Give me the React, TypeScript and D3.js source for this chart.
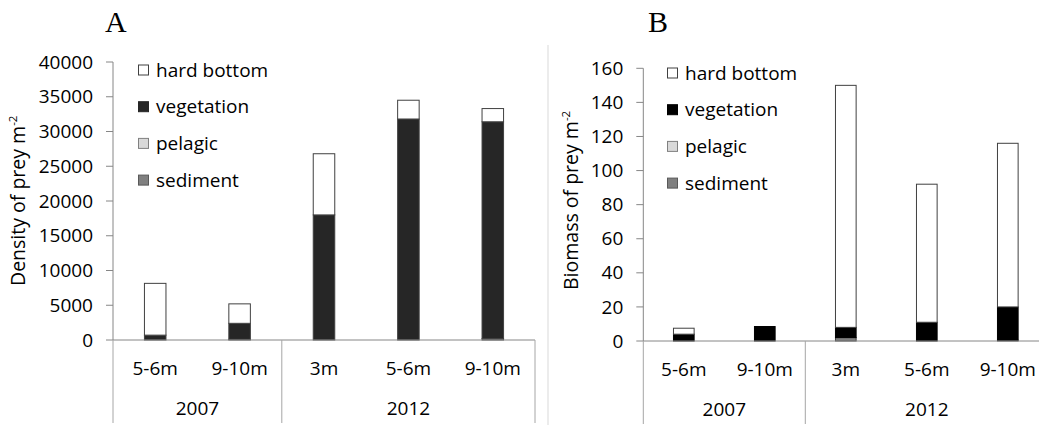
import React from "react";
import * as d3 from "d3";

const categories = ["5-6m", "9-10m", "3m", "5-6m", "9-10m"];
const catIds = ["a", "b", "c", "d", "e"];
const years = ["2007", "2012"];
const yearSpans = [2, 3];
const seriesNames = ["hard bottom", "vegetation", "pelagic", "sediment"];

// Panel A: density (prey m^-2)
const densitySediment = [0, 100, 0, 0, 200];
const densityPelagic = [0, 0, 0, 0, 0];
const densityVegetation = [700, 2300, 18000, 31800, 31200];
const densityHardBottom = [7450, 2800, 8800, 2700, 1900];
const densityTicks = [0, 5000, 10000, 15000, 20000, 25000, 30000, 35000, 40000];

// Panel B: biomass (prey m^-2)
const biomassSediment = [0, 0, 2, 0, 0.5];
const biomassPelagic = [0, 0, 0, 0, 0];
const biomassVegetation = [4, 8.5, 6, 11, 19.5];
const biomassHardBottom = [3.5, 0, 142, 81, 96];
const biomassTicks = [0, 20, 40, 60, 80, 100, 120, 140, 160];

const FONT = "'Open Sans', sans-serif";

type PanelProps = {
  letter: string;
  letterX: number;
  axisX: number;
  bandW: number;
  y0: number;
  yTop: number;
  maxV: number;
  ticks: number[];
  title: string;
  titleX: number;
  titleBottom: number;
  stacks: number[][]; // bottom -> top: sediment, pelagic, vegetation, hard
  colors: string[]; // sediment, pelagic, vegetation, hard
  legendX: number;
  legendY: number;
};

function Panel(p: PanelProps) {
  const x = d3
    .scaleBand<string>()
    .domain(catIds)
    .range([p.axisX, p.axisX + p.bandW * catIds.length]);
  const y = d3.scaleLinear().domain([0, p.maxV]).range([p.y0, p.yTop]);
  const bw = x.bandwidth() * 0.255;
  const axisEnd = p.axisX + p.bandW * catIds.length;
  const dividers: number[] = [p.axisX];
  let acc = 0;
  yearSpans.forEach((s) => {
    acc += s;
    dividers.push(x(catIds[acc - 1])! + x.bandwidth());
  });
  const legendColors = [p.colors[3], p.colors[2], p.colors[1], p.colors[0]];
  const legendStroke = ["#404040", p.colors[2], "#808080", "#595959"];
  return (
    <g>
      <text x={p.letterX} y={32} fontFamily="'Liberation Serif', 'Times New Roman', serif" fontSize={30} fill="#000">
        {p.letter}
      </text>
      {/* y axis */}
      <line x1={p.axisX} x2={p.axisX} y1={y(p.maxV)} y2={p.y0} stroke="#868686" strokeWidth={1} />
      {p.ticks.map((t) => (
        <g key={t}>
          <line x1={p.axisX - 7} x2={p.axisX} y1={y(t)} y2={y(t)} stroke="#868686" strokeWidth={1} />
          <text x={p.axisX - 20} y={y(t)} dy="0.35em" textAnchor="end" fontFamily={FONT} fontSize={19} fill="#000">
            {t}
          </text>
        </g>
      ))}
      <text
        transform={`translate(${p.titleX},${p.titleBottom}) rotate(-90)`}
        textAnchor="start"
        fontFamily={FONT}
        fontSize={19.5}
        fill="#000"
      >
        {p.title}
        <tspan fontSize={11.5} dy={-8}>-2</tspan>
      </text>
      {/* bars */}
      {catIds.map((id, i) => {
        let base = 0;
        return (
          <g key={id}>
            {p.stacks.map((s, k) => {
              const v = s[i];
              const b = base;
              base += v;
              if (v <= 0) return null;
              return (
                <rect
                  key={k}
                  x={x(id)! + (x.bandwidth() - bw) / 2}
                  y={y(b + v)}
                  width={bw}
                  height={y(b) - y(b + v)}
                  fill={p.colors[k]}
                  stroke={p.colors[k] === "#000000" ? "#000" : "#404040"}
                  strokeWidth={1}
                />
              );
            })}
          </g>
        );
      })}
      {/* x axis */}
      <line x1={p.axisX} x2={axisEnd} y1={p.y0} y2={p.y0} stroke="#868686" strokeWidth={1} />
      {dividers.map((dx, i) => (
        <line key={i} x1={dx} x2={dx} y1={p.y0} y2={p.y0 + 83} stroke="#a6a6a6" strokeWidth={1} />
      ))}
      {categories.map((c, i) => (
        <text
          key={i}
          x={x(catIds[i])! + x.bandwidth() / 2}
          y={p.y0 + 35}
          textAnchor="middle"
          fontFamily={FONT}
          fontSize={19}
          fill="#000"
        >
          {c}
        </text>
      ))}
      {years.map((yr, i) => {
        const start = yearSpans.slice(0, i).reduce((a, b) => a + b, 0);
        const end = start + yearSpans[i] - 1;
        const cx = (x(catIds[start])! + x(catIds[end])! + x.bandwidth()) / 2;
        return (
          <text key={yr} x={cx} y={p.y0 + 75} textAnchor="middle" fontFamily={FONT} fontSize={19} fill="#000">
            {yr}
          </text>
        );
      })}
      {/* legend */}
      {seriesNames.map((n, i) => (
        <g key={n} transform={`translate(${p.legendX},${p.legendY + i * 36.7})`}>
          <rect x={0.5} y={-5} width={10} height={10} fill={legendColors[i]} stroke={legendStroke[i]} strokeWidth={1} />
          <text x={18} y={0} dy="0.35em" fontFamily={FONT} fontSize={19} fill="#000">
            {n}
          </text>
        </g>
      ))}
    </g>
  );
}

export default function App() {
  return (
    <div style={{ position: "absolute", left: 0, top: 0 }}>
      <svg width={1039} height={425} style={{ display: "block", background: "#fff" }}>
        <rect width={1039} height={425} fill="#fff" />
        <Panel
          letter="A"
          letterX={105}
          axisX={113}
          bandW={84.4}
          y0={340}
          yTop={62}
          maxV={40000}
          ticks={densityTicks}
          title="Density of prey m"
          titleX={25}
          titleBottom={286}
          stacks={[densitySediment, densityPelagic, densityVegetation, densityHardBottom]}
          colors={["#808080", "#d9d9d9", "#262626", "#ffffff"]}
          legendX={138}
          legendY={70}
        />
        <line x1={548} x2={548} y1={45} y2={425} stroke="#d9d9d9" strokeWidth={1} />
        <Panel
          letter="B"
          letterX={648}
          axisX={643.3}
          bandW={81}
          y0={341}
          yTop={68.3}
          maxV={160}
          ticks={biomassTicks}
          title="Biomass of prey m"
          titleX={578}
          titleBottom={290}
          stacks={[biomassSediment, biomassPelagic, biomassVegetation, biomassHardBottom]}
          colors={["#808080", "#d9d9d9", "#000000", "#ffffff"]}
          legendX={667}
          legendY={73}
        />
      </svg>
    </div>
  );
}
